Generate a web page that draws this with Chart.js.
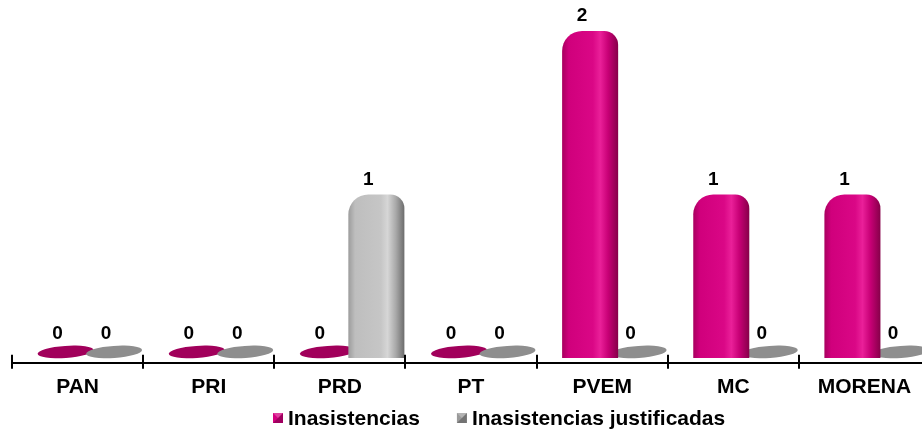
<!DOCTYPE html>
<html><head><meta charset="utf-8">
<script src="https://cdn.jsdelivr.net/npm/chart.js@4.4.1/dist/chart.umd.min.js"></script>
<style>html,body{margin:0;padding:0;background:#fff;overflow:hidden;}#wrap{width:930px;height:430px;position:relative;}</style>
</head><body><div id="wrap"><canvas id="c"></canvas></div>
<script>
const categories = ['PAN', 'PRI', 'PRD', 'PT', 'PVEM', 'MC', 'MORENA'];
const inasistencias = [0, 0, 0, 0, 2, 1, 1];
const justificadas = [0, 0, 1, 0, 0, 0, 0];
const seriesNames = ['Inasistencias', 'Inasistencias justificadas'];

const FONT = 'Arial, "Liberation Sans", sans-serif';
const DX = 12.25;           // 3D perspective shift of the bars
const CAT_PCT = 0.74, BAR_PCT = 1.155;

const magentaStops = [[0,'#a8005f'],[0.12,'#d0007c'],[0.55,'#da0786'],[0.68,'#ea2099'],[0.82,'#c80076'],[1,'#860049']];
const greyStops = [[0,'#9c9c9c'],[0.12,'#bebebe'],[0.58,'#c6c6c6'],[0.7,'#d6d6d6'],[0.85,'#a8a8a8'],[1,'#6c6c6c']];
const baseColors = ['#a1005b', '#8e8e8e'];
const legendColors = ['#d4007f', '#9a9a9a'];

function gradFor(stops, side) {
  return function (ctx) {
    const chart = ctx.chart, xs = chart.scales && chart.scales.x;
    if (!xs || ctx.type !== 'data' || !isFinite(xs.width) || xs.width <= 0) return stops[1][1];
    const slot = xs.width / categories.length * CAT_PCT / 2;
    const c = xs.getPixelForValue(ctx.dataIndex) + side * slot / 2;
    const hw = slot * BAR_PCT / 2;
    const g = chart.ctx.createLinearGradient(c - hw, 0, c + hw, 0);
    stops.forEach(s => g.addColorStop(s[0], s[1]));
    return g;
  };
}

const barsPlugin = {
  id: 'bars3d',
  beforeDatasetsDraw(chart) {
    const ctx = chart.ctx;
    ctx.save();
    ctx.translate(DX, 0);
    chart.data.datasets.forEach((ds, di) => {
      const meta = chart.getDatasetMeta(di);
      meta.data.forEach((el, i) => {
        if (ds.data[i] !== 0) return;
        ctx.beginPath();
        ctx.ellipse(el.x, el.base - 6, el.width / 2, 6, -0.07, 0, Math.PI * 2);
        ctx.fillStyle = baseColors[di];
        ctx.fill();
      });
    });
  },
  afterDatasetsDraw(chart) {
    const ctx = chart.ctx;
    ctx.fillStyle = '#000';
    ctx.font = 'bold 19px ' + FONT;
    ctx.textAlign = 'center';
    ctx.textBaseline = 'middle';
    chart.data.datasets.forEach((ds, di) => {
      const meta = chart.getDatasetMeta(di);
      meta.data.forEach((el, i) => {
        const v = ds.data[i];
        const y = v === 0 ? el.base - 24 : el.y - 15;
        ctx.fillText(String(v), el.x - 8, y);
      });
    });
    ctx.restore();
  },
  afterDraw(chart) {
    const ctx = chart.ctx, xs = chart.scales.x;
    const axisY = chart.chartArea.bottom;
    ctx.save();
    ctx.strokeStyle = '#000';
    ctx.lineWidth = 2;
    for (let i = 0; i <= categories.length; i++) {
      const x = Math.round(xs.left + i * xs.width / categories.length);
      ctx.beginPath();
      ctx.moveTo(x, axisY - 8);
      ctx.lineTo(x, axisY);
      ctx.stroke();
    }
    // legend
    ctx.font = 'bold 21px ' + FONT;
    ctx.textBaseline = 'middle';
    ctx.textAlign = 'left';
    let x = 273;
    const cy = 418;
    chart.data.datasets.forEach((ds, di) => {
      const col = legendColors[di];
      ctx.fillStyle = col;
      ctx.fillRect(x, cy - 5, 10, 10);
      ctx.fillStyle = 'rgba(0,0,0,0.25)';
      ctx.beginPath(); ctx.moveTo(x + 10, cy - 5); ctx.lineTo(x + 10, cy + 5); ctx.lineTo(x, cy + 5); ctx.lineTo(x + 5, cy); ctx.closePath(); ctx.fill();
      ctx.fillStyle = 'rgba(255,255,255,0.25)';
      ctx.beginPath(); ctx.moveTo(x, cy - 5); ctx.lineTo(x + 10, cy - 5); ctx.lineTo(x + 5, cy); ctx.closePath(); ctx.fill();
      ctx.fillStyle = '#000';
      ctx.fillText(ds.label, x + 15, cy + 1);
      x += 15 + ctx.measureText(ds.label).width + 37;
    });
    ctx.restore();
  }
};

new Chart(document.getElementById('c'), {
  type: 'bar',
  data: {
    labels: categories,
    datasets: [
      { label: seriesNames[0], data: inasistencias, backgroundColor: gradFor(magentaStops, -1),
        borderRadius: { topLeft: 20, topRight: 14, bottomLeft: 0, bottomRight: 0 }, borderSkipped: 'bottom',
        categoryPercentage: CAT_PCT, barPercentage: BAR_PCT },
      { label: seriesNames[1], data: justificadas, backgroundColor: gradFor(greyStops, 1),
        borderRadius: { topLeft: 20, topRight: 14, bottomLeft: 0, bottomRight: 0 }, borderSkipped: 'bottom',
        categoryPercentage: CAT_PCT, barPercentage: BAR_PCT }
    ]
  },
  options: {
    responsive: true,
    maintainAspectRatio: false,
    animation: false,
    layout: { padding: { top: 31, left: 12, right: 0, bottom: 24 } },
    plugins: { legend: { display: false }, tooltip: { enabled: false } },
    scales: {
      x: {
        offset: true,
        grid: { display: true, drawOnChartArea: false, drawTicks: true, tickLength: 6, color: '#000', lineWidth: 2, offset: true },
        border: { display: true, color: '#000', width: 2 },
        ticks: { color: '#000', font: { family: FONT, size: 21, weight: 'bold' }, padding: 6, maxRotation: 0, autoSkip: false }
      },
      y: { display: false, min: -0.03, max: 2 }
    }
  },
  plugins: [barsPlugin]
});
</script>
</body></html>
